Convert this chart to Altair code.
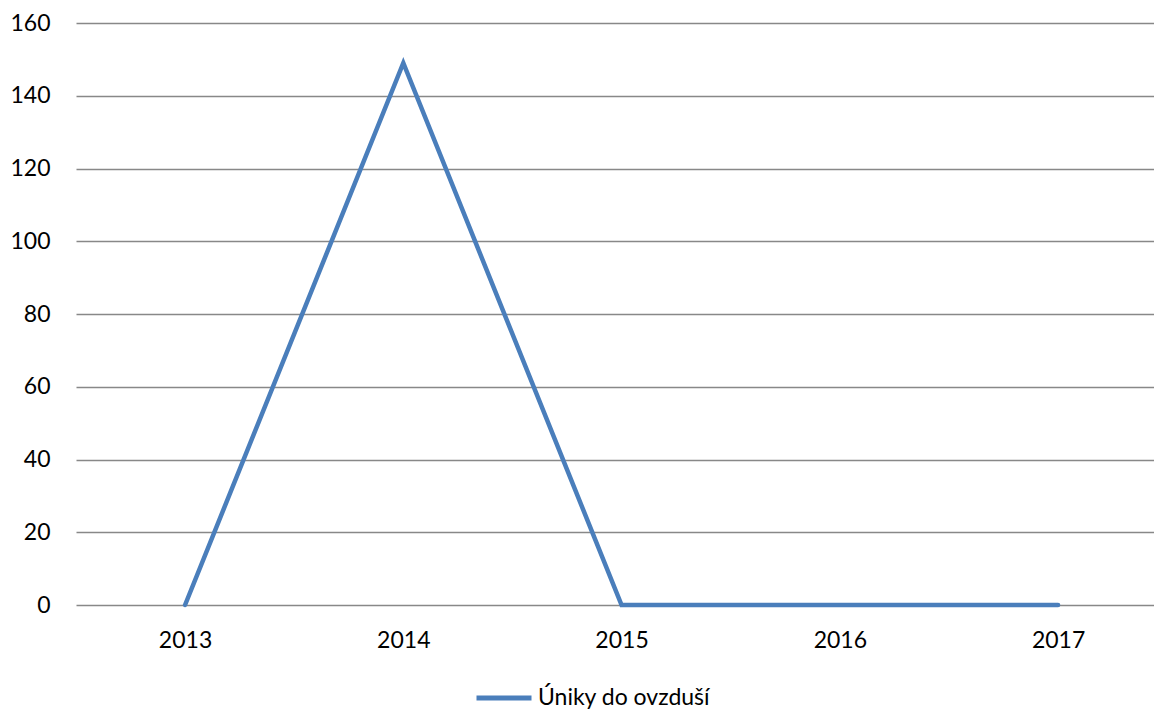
import altair as alt
import pandas as pd

years = ["2013", "2014", "2015", "2016", "2017"]
values = [0, 149, 0, 0, 0]
series = "Úniky do ovzduší"

df = pd.DataFrame({"year": years, "value": values, "series": [series] * len(years)})

FONT = "Lato"
FS = 23

chart = alt.Chart(df).mark_line(strokeWidth=4.5, strokeCap="round", strokeJoin="miter").encode(
    x=alt.X("year:O", sort=years,
            scale=alt.Scale(type="point", padding=0.4696, align=0.532),
            axis=alt.Axis(title=None, labelAngle=0, grid=False, domain=False, ticks=False,
                          labelPadding=24, labelFontSize=FS, labelFont=FONT, labelColor="#000000")),
    y=alt.Y("value:Q", scale=alt.Scale(domain=[0, 160], nice=False),
            axis=alt.Axis(title=None, values=list(range(0, 161, 20)), grid=True, gridColor="#888888",
                          gridWidth=1.3, domain=False, ticks=False, labelPadding=26,
                          labelFontSize=FS, labelFont=FONT, labelColor="#000000")),
    color=alt.Color("series:N", scale=alt.Scale(range=["#4a7ebb"]),
                    legend=alt.Legend(title=None, orient="none", legendX=398, legendY=645,
                                      symbolType="stroke", symbolSize=3025, symbolStrokeWidth=5,
                                      labelFontSize=FS, labelFont=FONT, labelColor="#000000",
                                      labelOffset=4, labelLimit=1000)),
).properties(
    width=1078, height=582,
    autosize=alt.AutoSizeParams(type="none"),
    padding={"left": 76, "top": 23, "right": 0, "bottom": 106},
).configure_view(stroke=None)

chart.save("out.html", embed_options={"renderer": "svg", "actions": False})
